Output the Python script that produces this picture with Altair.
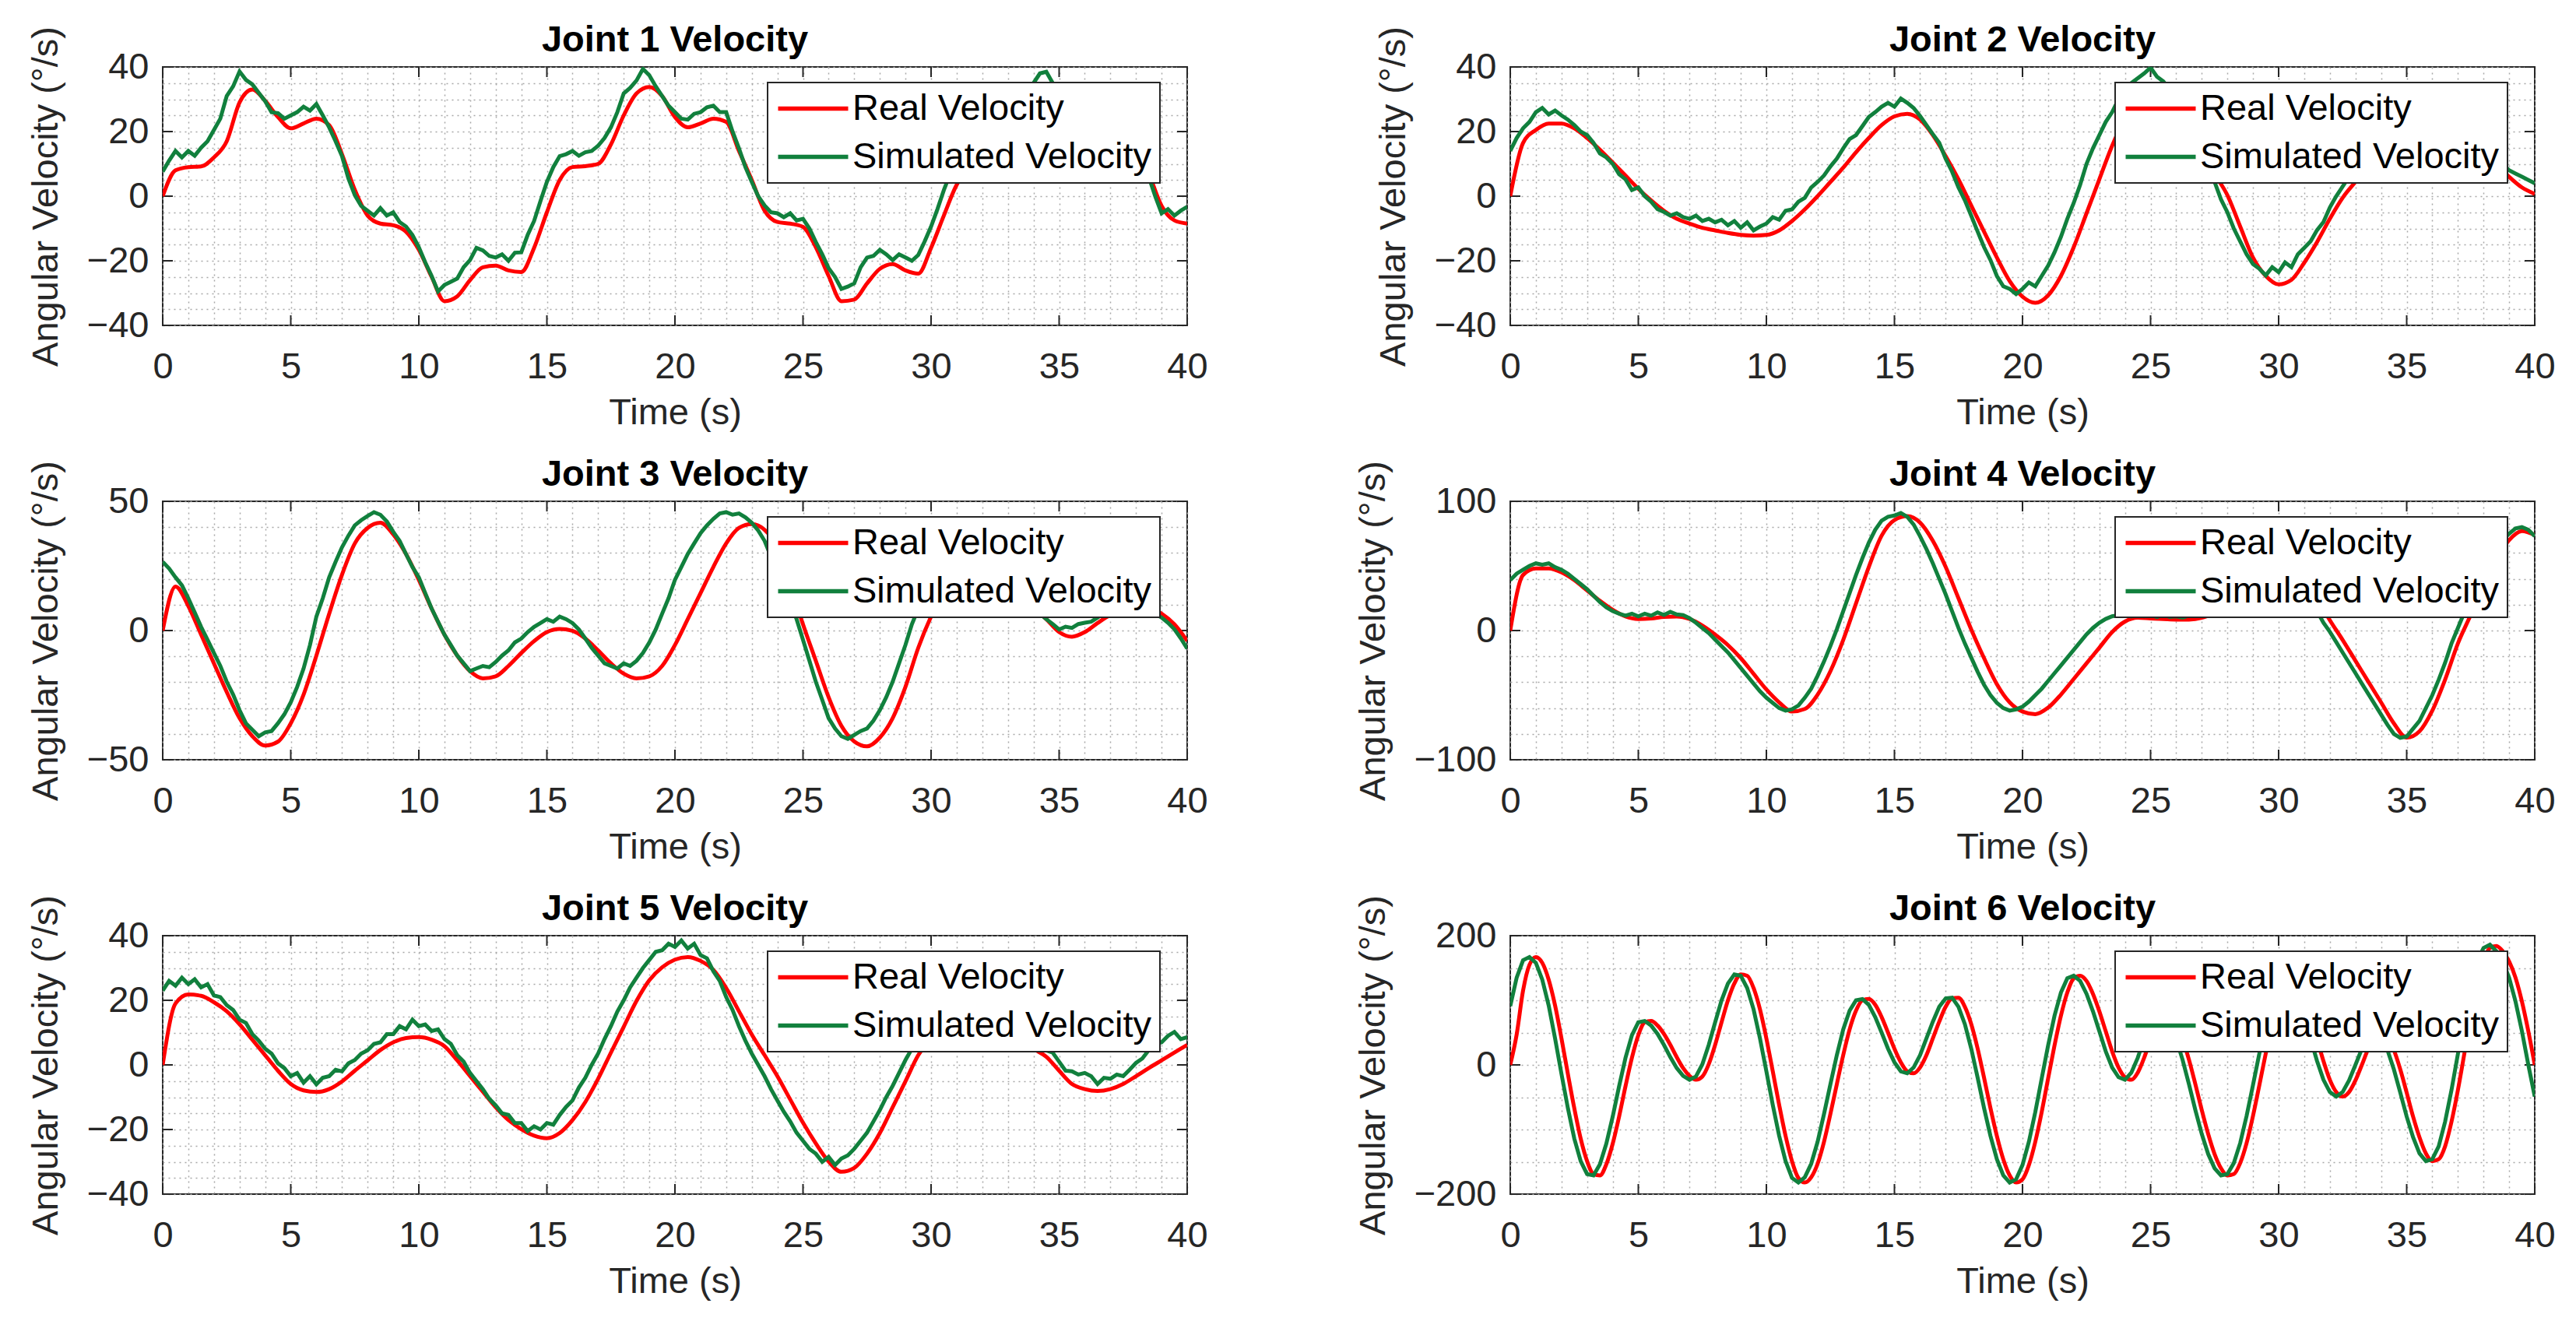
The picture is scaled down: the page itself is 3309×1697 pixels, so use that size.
import altair as alt
import pandas as pd

FONT = "Liberation Sans"
RED = "#ff0000"
GREEN = "#11803d"
AXC = "#262626"
SERIES = ["Real Velocity", "Simulated Velocity"]
FS = 47
W, H = 1316, 332
TICK = 13

# ---------------- data ----------------
# real series for joints 1-5: t = 0..40 step 0.5 ; simulated: step 0.25
real_1 = [0, 8, 9, 9.2, 12, 17, 29, 33, 29.5, 24.5,
          21, 22.5, 24, 22, 13, 2, -6, -8.5, -9, -11,
          -16.6, -25, -32.5, -31, -26, -22, -21.5, -23, -23.5, -16,
          -5, 5, 9, 9.3, 10, 16, 25, 31.8, 33.8, 31,
          24.5, 21.3, 22.5, 24, 23, 14, 5, -4.5, -8, -8.5,
          -9.5, -15.8, -24.7, -32.5, -32, -27, -22.5, -21, -23, -24,
          -16, -6, 3.5, 8.5, 9.2, 10, 15, 24, 31, 33.5,
          31.5, 25, 21.5, 22.5, 24, 23, 15, 7, -3, -7.5,
          -8.5]
sim_1 = [7.6, 11, 14, 12,
         14, 12.5, 15, 17,
         20.5, 24, 31, 34,
         38.6, 36, 34.6, 32,
         29.4, 26, 25.7, 24,
         25, 26, 27.7, 26.5,
         28.5, 25, 21.3, 17,
         12.4, 5.5, 0.3, -3,
         -4.5, -6, -3.7, -6,
         -5, -8, -9.4, -12,
         -15.8, -20.5, -24.7, -29.5,
         -27.5, -26.5, -25.5, -22,
         -19.8, -16, -16.8, -18.5,
         -19, -18, -20, -17.5,
         -17.4, -12, -7.7, -1.5,
         4.4, 9, 12.4, 13,
         14, 12.5, 13.6, 14,
         15.6, 18, 21.3, 26,
         31.8, 33.5, 35.8, 39.4,
         37.4, 34, 31, 28,
         26, 24, 23.7, 25.5,
         26, 27.5, 28, 26,
         26, 20, 14.8, 9,
         4.4, 0, -2.9, -5,
         -5.3, -6.5, -5.3, -7.5,
         -7, -10, -14.2, -18,
         -22.3, -25, -28.7, -28,
         -27, -22, -19, -18.5,
         -16.6, -18, -19.8, -18,
         -19, -20, -18.2, -14,
         -9.4, -4, 1.9, 7,
         11, 13, 14, 12.5,
         13.7, 14, 15, 17.5,
         20, 25, 30, 32,
         35, 38, 38.5, 35,
         32, 29, 27, 25,
         24, 24.5, 25.5, 27,
         28, 27, 26.5, 22,
         17, 11, 6, 0,
         -5.3, -4, -6, -4.5,
         -3.3]

real_2 = [0, 16.5, 20.5, 22.5, 22.5, 21, 18, 14.4, 10.4, 6.4,
          2.3, -1.3, -4.5, -7, -8.5, -9.8, -10.6, -11.4, -12, -12.2,
          -12, -10.6, -7.7, -4.1, 0, 4.4, 8.8, 13.6, 18, 22,
          24.7, 25.5, 23.7, 18.9, 12.4, 5.2, -2.9, -11, -19, -26.3,
          -31.1, -33, -30.7, -24.7, -15.8, -5.3, 5.2, 15.6, 24, 30,
          33, 33.5, 31, 24, 15, 7, 0.3, -9.4, -19, -24.7,
          -27.3, -25.9, -20.6, -14.2, -7, -0.5, 4.4, 9, 13, 16,
          18, 19.5, 20, 19.5, 18, 16, 13, 10, 6, 2.7,
          0.7]
sim_2 = [14, 18, 21, 23,
         26, 27.3, 25.3, 26.5,
         25, 23.7, 22, 20,
         18.9, 16.5, 13.2, 12,
         10, 6.8, 5.2, 1.9,
         2.7, 0, -1.7, -4,
         -4.9, -6, -5.3, -6.5,
         -7, -6, -7.7, -7,
         -8.1, -7.3, -9, -7.7,
         -9.8, -8.1, -10.6, -9.4,
         -8.5, -6.5, -7.3, -4.5,
         -4.1, -1.7, -0.5, 2.7,
         4.4, 6.4, 9.2, 11.6,
         14.8, 17.7, 18.9, 21.7,
         24.5, 26, 27.7, 28.9,
         27.7, 30.2, 28.9, 27.3,
         24.8, 22, 19.2, 16.5,
         11.6, 7.6, 2.7, -1.3,
         -6.1, -11, -15.8, -19.8,
         -24.7, -27.9, -28.7, -30.3,
         -28.7, -26.7, -27.9, -24.7,
         -21.5, -17.4, -12.6, -7,
         -2.1, 3.5, 10, 14.8,
         18.9, 23, 26, 30,
         33, 35, 36.5, 38,
         39.8, 37, 35.5, 33,
         29, 25, 21, 17,
         12, 8, 4.4, -1,
         -5, -10, -14, -18,
         -21, -22.5, -24.5, -22,
         -23.5, -20.5, -22, -18,
         -16, -14, -10.5, -8,
         -3.5, 0, 3, 6,
         9, 11.5, 14, 16,
         18, 19.5, 21, 22,
         23, 23.5, 24, 24.5,
         24, 23.5, 23, 22.5,
         22, 20.5, 19, 17.5,
         17, 14.5, 12, 10,
         8, 7, 6, 5,
         4]

real_3 = [0, 17, 9.5, -1.6, -12.7, -23.8, -33.9, -40.9, -44.5, -43,
          -35.9, -24.8, -9.7, 6.5, 21.6, 33.7, 39.7, 41.7, 37.2, 29.6,
          19.6, 8.5, -1.6, -9.7, -15.7, -18.5, -17.7, -13.7, -8.7, -4.1,
          -0.6, 0.6, -0.1, -3.1, -7.7, -12.7, -16.7, -18.5, -17.7, -13.7,
          -5.6, 4.4, 14.5, 24.6, 33.7, 39.7, 41.2, 39, 32, 18,
          2.4, -11.7, -25.8, -36.9, -42.9, -44.8, -41.4, -33.9, -21.8, -6.7,
          5.4, 15, 22, 26, 27, 25, 20, 15, 9, 4.4,
          -0.6, -2.4, -0.6, 2.9, 6, 8, 9.5, 9, 6.5, 2.4,
          -4]
sim_3 = [26.6, 24, 20.6, 17.5,
         12.5, 7, 1.4, -3.6,
         -8.7, -13.7, -19.8, -24.8,
         -30.8, -35.9, -38.4, -40.9,
         -39.4, -38.9, -35.9, -32.4,
         -27.8, -21.8, -14.7, -5.6,
         5.4, 12.5, 20.6, 26.6,
         32.2, 36.7, 40.7, 42.7,
         44.3, 45.8, 44.8, 42.2,
         38.2, 34.7, 29.6, 24.6,
         20.6, 14.5, 8.5, 3.4,
         -1.6, -5.6, -9.7, -12.7,
         -15.7, -14.7, -13.7, -14.2,
         -12.2, -9.7, -7.7, -4.6,
         -3.1, -0.6, 1.4, 2.9,
         4.4, 3.4, 5.4, 4.4,
         2.9, 0.4, -3.1, -6.7,
         -9.7, -12.7, -13.7, -14.7,
         -12.7, -13.7, -11.7, -8.7,
         -4.6, 0.4, 6.5, 12.5,
         19.6, 24.6, 29.6, 33.7,
         37.7, 40.7, 43.2, 45.3,
         45.8, 44.8, 45.3, 43.8,
         41.7, 38.7, 34.7, 28.6,
         22.6, 16.5, 10.5, 4.4,
         -3.6, -11.7, -19.8, -26.8,
         -33.9, -37.9, -40.9, -41.9,
         -40.4, -38.9, -37.9, -34.9,
         -30.8, -25.8, -19.8, -12.7,
         -5.6, 2.4, 8.5, 11,
         14, 18, 22, 25,
         27.5, 29, 30, 30,
         29, 27.5, 25, 22.5,
         20, 17, 14.5, 12,
         9, 6.5, 4.4, 2.5,
         0.4, 1.5, 1, 2.5,
         3, 3.4, 5, 7,
         8.5, 10, 11, 11,
         10.5, 9.5, 8, 6.5,
         5, 3, 0.5, -3,
         -7]

real_4 = [0, 43, 48, 48, 45, 39, 31, 23, 16, 10.9,
          8.9, 9.3, 10.5, 10.9, 8.9, 3.8, -3.2, -11.3, -21.4, -33.5,
          -45.6, -55.6, -62.7, -60.7, -49.6, -31.5, -7.3, 21, 49.2, 73.4,
          85.5, 88.5, 83.5, 69.4, 49.2, 25, 0.8, -21.4, -41.5, -55.6,
          -62.7, -64.7, -59.7, -49.6, -37.5, -25.4, -13.3, -1.2, 6.9, 9.9,
          9.3, 8.9, 8.5, 8.5, 9.9, 14, 25, 42, 58, 66,
          66, 58, 42, 25, 8, -7.3, -23.4, -39.5, -55.6, -71.8,
          -82.9, -78, -62, -38, -10, 12, 35, 55, 70, 77,
          74]
sim_4 = [39, 44, 47, 50,
         52, 51, 52, 49,
         47, 44, 40, 36,
         32, 27, 22, 18,
         15, 13, 11.5, 13,
         11, 13, 11.5, 14,
         12, 14.5, 12.5, 12,
         9.5, 6, 2, -2,
         -7, -12, -17, -23,
         -29, -35, -41, -47,
         -52, -56, -60, -62,
         -61, -58, -52, -45,
         -35, -24, -12, 1,
         15, 29, 43, 56,
         68, 78, 85, 88,
         89, 91, 88, 82,
         73, 63, 52, 40,
         28, 15, 2, -10,
         -21, -32, -42, -50,
         -56, -60, -62, -61,
         -59, -55, -50, -45,
         -39, -33, -27, -21,
         -15, -9, -3, 2,
         6, 9, 11, 12,
         13, 11, 12.5, 11,
         12, 10.5, 12, 10.5,
         11, 10, 11.5, 12,
         14, 16, 20, 28,
         36, 44, 52, 59,
         64, 67, 68, 67,
         63, 57, 50, 41,
         32, 22, 15, 6,
         -1, -9, -17, -25,
         -33, -41, -49, -57,
         -65, -73, -80, -83,
         -82, -76, -70, -60,
         -50, -38, -25, -10,
         2, 14, 24, 36,
         47, 56, 63, 70,
         75, 79, 80, 78,
         73]

real_5 = [0, 19, 21.8, 21.4, 19.4, 16.6, 12.6, 7.8, 3, -1.8,
          -5.9, -7.9, -8.4, -7.5, -5.1, -1.8, 1.4, 4.6, 7, 8.3,
          8.6, 7.8, 5.8, 1.4, -3.5, -8.3, -13.1, -17.1, -19.9, -21.9,
          -22.7, -21.1, -17.1, -11.5, -4.3, 3.8, 11.8, 19.8, 26.2, 30.2,
          32.6, 33.4, 32.2, 29.4, 23.8, 16.6, 9.4, 3, -3.5, -10.7,
          -17.9, -24.3, -29.9, -33.1, -31.9, -27.5, -21.1, -13.1, -5.1, 3,
          8, 12, 14, 15, 14.5, 13, 11, 8, 5, 2.5,
          -1.8, -5.9, -7.5, -8.1, -7.5, -5.9, -3.5, -1, 1.4, 3.8,
          6.2]
sim_5 = [23, 26, 24.5, 27,
         25, 26.5, 24, 25,
         21.5, 21, 18.5, 17,
         14, 13, 9.5, 7.5,
         5, 3.5, 0.5, -1,
         -3.5, -2.5, -5.5, -3.5,
         -6, -4, -3.5, -1.5,
         -2, 0.5, 1.5, 3.5,
         4.5, 6.5, 7, 9.5,
         9.5, 12, 11, 14,
         12, 12.5, 10.5, 11,
         8, 6.5, 3, 1,
         -2.5, -5, -7.5, -10.5,
         -12.5, -15, -15.5, -18,
         -18, -20.5, -19, -20,
         -18, -18.5, -15.5, -13,
         -11, -7, -4, 0,
         3.5, 8, 12, 16.5,
         20, 24, 27, 30,
         32.5, 35, 35.5, 37.5,
         36.5, 38.5, 36, 37.5,
         34, 33, 29, 26,
         21, 17, 12, 7.5,
         3.5, 0, -3.5, -7.5,
         -11, -14.5, -17.5, -21,
         -23.5, -26, -27.5, -30,
         -28.5, -31, -29, -28,
         -26, -23.5, -21, -17.5,
         -14, -10, -6.5, -2.5,
         1.5, 5, 9, 12,
         15, 17, 18.5, 20,
         20.5, 21, 20.5, 20,
         18.5, 17, 15.5, 14,
         12, 10.5, 9, 7.5,
         6.5, 5.5, 4.5, 3.8,
         1, -1.8, -2, -3,
         -2.5, -3.5, -5.9, -4,
         -4.3, -3, -3.5, -1.5,
         0.6, 2, 4.6, 6.5,
         7, 9, 10.2, 8,
         8.6]

# joint 6: both series at step 0.25
real_6 = [0, 47, 115, 155,
          167, 158, 132, 92,
          41, -14, -67, -114,
          -149, -169, -171, -154,
          -122, -80, -33, 11,
          46, 66, 68, 61,
          48, 31, 12, -5,
          -17, -23, -18, 1,
          31, 66, 100, 126,
          140, 138, 119, 86,
          41, -10, -62, -110,
          -149, -175, -182, -174,
          -153, -119, -76, -30,
          15, 55, 84, 100,
          102, 93, 74, 50,
          25, 4, -10, -13,
          -4, 15, 41, 67,
          90, 103, 104, 90,
          63, 25, -20, -67,
          -110, -146, -171, -182,
          -177, -155, -119, -73,
          -21, 30, 76, 112,
          134, 138, 130, 110,
          83, 52, 21, -4,
          -19, -23, -12, 11,
          40, 65, 79, 78,
          64, 40, 8, -30,
          -70, -107, -138, -160,
          -171, -169, -152, -121,
          -79, -31, 18, 63,
          99, 124, 130, 123,
          104, 75, 40, 6,
          -23, -42, -49, -42,
          -24, 0, 25, 43,
          50, 43, 23, -7,
          -43, -80, -112, -137,
          -149, -146, -126, -88,
          -39, 17, 74, 123,
          161, 181, 184, 176,
          160, 135, 98, 52,
          0]
sim_6 = [91, 135, 162, 167,
         158, 132, 92, 41,
         -14, -67, -114, -149,
         -169, -171, -154, -122,
         -80, -33, 11, 46,
         66, 68, 61, 48,
         31, 12, -5, -17,
         -23, -18, 1, 31,
         66, 100, 126, 140,
         138, 119, 86, 41,
         -10, -62, -110, -149,
         -175, -182, -174, -153,
         -119, -76, -30, 15,
         55, 84, 100, 102,
         93, 74, 50, 25,
         4, -10, -13, -4,
         15, 41, 67, 90,
         103, 104, 90, 63,
         25, -20, -67, -110,
         -146, -171, -182, -177,
         -155, -119, -73, -21,
         30, 76, 112, 134,
         138, 130, 110, 83,
         52, 21, -4, -19,
         -23, -12, 11, 40,
         65, 79, 78, 64,
         40, 8, -30, -70,
         -107, -138, -160, -171,
         -169, -152, -121, -79,
         -31, 18, 63, 99,
         124, 130, 123, 104,
         75, 40, 6, -23,
         -42, -49, -42, -24,
         0, 25, 43, 50,
         43, 23, -7, -43,
         -80, -112, -137, -149,
         -146, -126, -88, -39,
         17, 74, 123, 161,
         181, 186, 176, 160,
         135, 98, 52, 0,
         -49]

titles = ["Joint 1 Velocity", "Joint 2 Velocity", "Joint 3 Velocity",
          "Joint 4 Velocity", "Joint 5 Velocity", "Joint 6 Velocity"]
reals = [real_1, real_2, real_3, real_4, real_5, real_6]
sims = [sim_1, sim_2, sim_3, sim_4, sim_5, sim_6]
y_limits = [(-40, 40), (-40, 40), (-50, 50), (-100, 100), (-40, 40), (-200, 200)]
y_minor_step = [5, 5, 10, 20, 5, 50]
y_major_step = [20, 20, 50, 100, 20, 200]
x_minor = list(range(0, 41, 1))
x_major = list(range(0, 41, 5))


def times(vals):
    n = len(vals)
    return [40.0 * i / (n - 1) for i in range(n)]


def panel(k):
    lo, hi = y_limits[k]
    ymin_vals = list(range(lo, hi + 1, y_minor_step[k]))
    ymaj_vals = list(range(lo, hi + 1, y_major_step[k]))
    df_real = pd.DataFrame({"t": times(reals[k]), "v": reals[k], "series": SERIES[0]})
    df_sim = pd.DataFrame({"t": times(sims[k]), "v": sims[k], "series": SERIES[1]})
    xs = alt.Scale(domain=[0, 40], nice=False, zero=False)
    ys = alt.Scale(domain=[lo, hi], nice=False, zero=False)
    x_axis = alt.Axis(values=x_minor,
                      labelExpr="datum.value % 5 === 0 ? datum.label : ''",
                      title="Time (s)")
    y_axis = alt.Axis(values=ymin_vals,
                      labelExpr=f"datum.value % {y_major_step[k]} === 0 ? datum.label : ''",
                      title="Angular Velocity (°/s)")
    X = alt.X("t:Q", scale=xs, axis=x_axis)
    Y = alt.Y("v:Q", scale=ys, axis=y_axis)
    legend = alt.Legend(orient="none", legendX=777, legendY=20, direction="vertical",
                        fillColor="white", strokeColor=AXC, padding=10,
                        symbolType="M-2.25,0H2.25", symbolSize=1600,
                        symbolStrokeWidth=5.5, symbolOffset=25, labelOffset=27,
                        labelFont=FONT, labelFontSize=FS, labelColor="black",
                        labelLimit=800, rowPadding=14)
    color = alt.Color("series:N", scale=alt.Scale(domain=SERIES, range=[RED, GREEN]),
                      title=None, legend=legend)

    df_xt = pd.DataFrame({"t": x_major})
    df_yt = pd.DataFrame({"v": ymaj_vals})
    tick_x_bot = alt.Chart(df_xt).mark_rule(color=AXC, strokeWidth=2).encode(
        x=X, y=alt.value(H), y2=alt.value(H - TICK))
    tick_x_top = alt.Chart(df_xt).mark_rule(color=AXC, strokeWidth=2).encode(
        x=X, y=alt.value(0), y2=alt.value(TICK))
    tick_y_left = alt.Chart(df_yt).mark_rule(color=AXC, strokeWidth=2).encode(
        y=Y, x=alt.value(0), x2=alt.value(TICK))
    tick_y_right = alt.Chart(df_yt).mark_rule(color=AXC, strokeWidth=2).encode(
        y=Y, x=alt.value(W - TICK), x2=alt.value(W))

    real_line = alt.Chart(df_real).mark_line(strokeWidth=5, clip=True, interpolate="monotone").encode(
        x=X, y=Y, color=color)
    sim_line = alt.Chart(df_sim).mark_line(strokeWidth=5, clip=True).encode(
        x=X, y=Y, color=color)

    title_text = alt.Chart(pd.DataFrame({"title": [titles[k]]})).mark_text(
        font=FONT, fontSize=FS, fontWeight="bold", color="black",
        align="center", baseline="alphabetic").encode(
        x=alt.value(W / 2), y=alt.value(-20), text="title:N")

    return alt.layer(tick_x_bot, tick_x_top, tick_y_left, tick_y_right,
                     real_line, sim_line, title_text).properties(width=W, height=H)


chart = alt.concat(*[panel(k) for k in range(6)], columns=2,
                   spacing={"row": 226, "column": 415}, bounds="flush")
chart = chart.resolve_scale(x="independent", y="independent").resolve_legend(color="independent")
chart = chart.properties(padding={"left": 26, "top": 19, "right": 5, "bottom": 5}, background="white")
chart = chart.configure_view(stroke=AXC, strokeWidth=2).configure_axis(
    grid=True, gridDash=[2, 5], gridColor="#a8a8a8", gridWidth=1.5,
    domain=False, ticks=False, labelFlush=False, labelOverlap=False,
    labelFont=FONT, labelFontSize=FS, labelColor=AXC,
    titleFont=FONT, titleFontSize=FS, titleFontWeight="normal", titleColor=AXC
).configure_axisX(labelPadding=30, titlePadding=13).configure_axisY(
    labelPadding=18, titlePadding=28).configure_legend(strokeWidth=2)

chart.save("out.html", embed_options={"renderer": "svg", "actions": False})
